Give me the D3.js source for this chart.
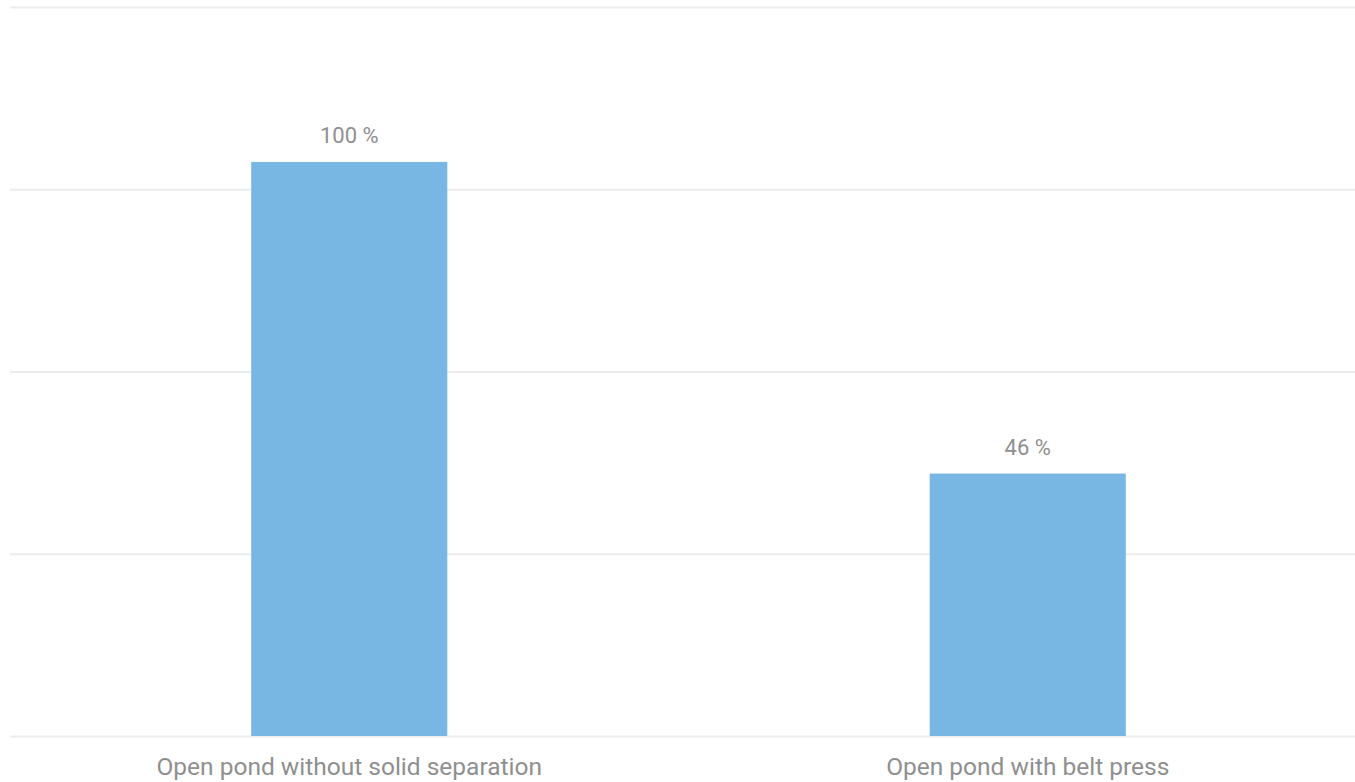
<!DOCTYPE html>
<html>
<head>
<meta charset="utf-8">
<script src="https://cdn.jsdelivr.net/npm/d3@7"></script>
<style>
  html, body { margin: 0; padding: 0; background: #ffffff; }
  svg { display: block; }
</style>
</head>
<body>
<svg id="chart" width="1355" height="782"></svg>
<script>
const categories = ["Open pond without solid separation", "Open pond with belt press"];
const values = [3.15, 1.44];
const valueLabels = ["100 %", "46 %"];
const yTicks = [0, 1, 2, 3, 4];

const W = 1355, H = 782;
const margin = { left: 10, right: -12, top: 7, bottom: 46 };
const svg = d3.select("#chart");

const x = d3.scaleBand().domain(categories).range([margin.left, W - margin.right]).padding(0);
const y = d3.scaleLinear().domain([0, 4]).range([H - margin.bottom, margin.top]);

const font = "Roboto, 'Liberation Sans', sans-serif";
const textColor = "#8f8f8f";

// gridlines
const yAxis = d3.axisLeft(y).tickValues(yTicks).tickSize(-(W - margin.left - margin.right)).tickFormat("");
const g = svg.append("g").attr("transform", `translate(${margin.left},0)`).call(yAxis);
g.select(".domain").remove();
g.selectAll(".tick line").attr("stroke", "#ececec").attr("stroke-width", 2);

const barW = x.bandwidth() * 0.289;
svg.append("g").selectAll("rect").data(values).join("rect")
  .attr("x", (d, i) => x(categories[i]) + x.bandwidth() / 2 - barW / 2)
  .attr("width", barW)
  .attr("y", d => y(d))
  .attr("height", d => y(0) - y(d))
  .attr("fill", "#78b7e4");

svg.append("g").selectAll("text").data(values).join("text")
  .attr("x", (d, i) => x(categories[i]) + x.bandwidth() / 2)
  .attr("y", d => y(d) - 19)
  .attr("text-anchor", "middle")
  .attr("font-family", font)
  .attr("font-size", 22)
  .attr("fill", textColor)
  .text((d, i) => valueLabels[i]);

// x axis labels
const xAxis = d3.axisBottom(x).tickSize(0).tickPadding(0);
const gx = svg.append("g").attr("transform", `translate(0,${y(0)})`).call(xAxis);
gx.select(".domain").remove();
gx.selectAll(".tick text")
  .attr("dy", null)
  .attr("y", 39)
  .attr("font-family", font)
  .attr("font-size", 24.5)
  .attr("fill", textColor);
</script>
</body>
</html>
